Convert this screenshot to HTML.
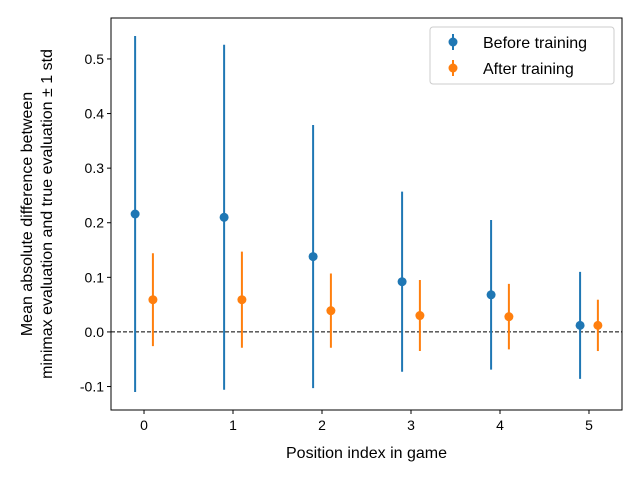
<!DOCTYPE html>
<html><head><meta charset="utf-8"><style>body{margin:0;background:#fff}svg{display:block;font-family:"Liberation Sans","DejaVu Sans",sans-serif}</style></head>
<body>
<svg id="chart" width="640" height="480"></svg>
<script>
const positions=[0,1,2,3,4,5];
const beforeMean=[0.216,0.210,0.138,0.092,0.068,0.012];
const beforeStd=[0.326,0.316,0.241,0.165,0.137,0.098];
const afterMean=[0.059,0.059,0.039,0.030,0.028,0.012];
const afterStd=[0.085,0.088,0.068,0.065,0.060,0.047];
const yTicks=[-0.1,0.0,0.1,0.2,0.3,0.4,0.5];
const xTicks=[0,1,2,3,4,5];
const L=111,R=622,T=18,B=410;
const xMin=-0.371,xMax=5.371,yMin=-0.143,yMax=0.575;
const xs=v=>L+(v-xMin)/(xMax-xMin)*(R-L);
const ys=v=>B-(v-yMin)/(yMax-yMin)*(B-T);
const svg=document.getElementById('chart');
const NS='http://www.w3.org/2000/svg';
function mk(tag,attrs,parent){const e=document.createElementNS(NS,tag);for(const k in attrs)e.setAttribute(k,attrs[k]);(parent||svg).appendChild(e);return e;}
// zero line
const z=mk('line',{x1:L,x2:R,y1:ys(0),y2:ys(0),stroke:'#000','stroke-width':1,'stroke-dasharray':'4,2'});


function series(mean,std,off,color,name){
  const g=mk('g',{});
  
  
  positions.forEach((p,i)=>{
    const x=xs(p+off);
    const l=mk('line',{x1:x,x2:x,y1:ys(mean[i]-std[i]),y2:ys(mean[i]+std[i]),stroke:color,'stroke-width':2},g);
    
    
    const c=mk('circle',{cx:x,cy:ys(mean[i]),r:4.5,fill:color},g);
    
    
  });
}
series(beforeMean,beforeStd,-0.1,'#1f77b4','before-training');
series(afterMean,afterStd,0.1,'#ff7f0e','after-training');
// axes frame
const fr=mk('rect',{x:L,y:T,width:R-L,height:B-T,fill:'none',stroke:'#000','stroke-width':1});


yTicks.forEach(v=>{
  const y=ys(v);
  mk('line',{x1:L-4,x2:L,y1:y,y2:y,stroke:'#000'});
  const t=mk('text',{x:L-7,y:y+5,'text-anchor':'end','font-size':14});
  t.textContent=v.toFixed(1);
  
  
});
xTicks.forEach(v=>{
  const x=xs(v);
  mk('line',{x1:x,x2:x,y1:B,y2:B+4,stroke:'#000'});
  const t=mk('text',{x:x,y:B+20,'text-anchor':'middle','font-size':14});
  t.textContent=v;
  
  
});
const xt=mk('text',{x:(L+R)/2,y:458,'text-anchor':'middle','font-size':16});
xt.textContent='Position index in game';


const y1=mk('text',{x:32,y:214,'text-anchor':'middle','font-size':16,transform:'rotate(-90 32 214)'});
y1.textContent='Mean absolute difference between';


const y2=mk('text',{x:52,y:214,'text-anchor':'middle','font-size':16,transform:'rotate(-90 52 214)'});
y2.textContent='minimax evaluation and true evaluation ± 1 std';


// legend
const lg=mk('g',{});


mk('rect',{x:430,y:27,width:184,height:57,rx:3,fill:'#fff',stroke:'#ccc'},lg);
[['Before training','#1f77b4',42],['After training','#ff7f0e',68]].forEach(([lab,col,y])=>{
  const e=mk('g',{},lg);
  
  
  mk('line',{x1:453,x2:453,y1:y-8,y2:y+8,stroke:col,'stroke-width':2},e);
  mk('circle',{cx:453,cy:y,r:4.5,fill:col},e);
  const t=mk('text',{x:483,y:y+6,'font-size':16},e);
  t.textContent=lab;
});
</script>
</body></html>
